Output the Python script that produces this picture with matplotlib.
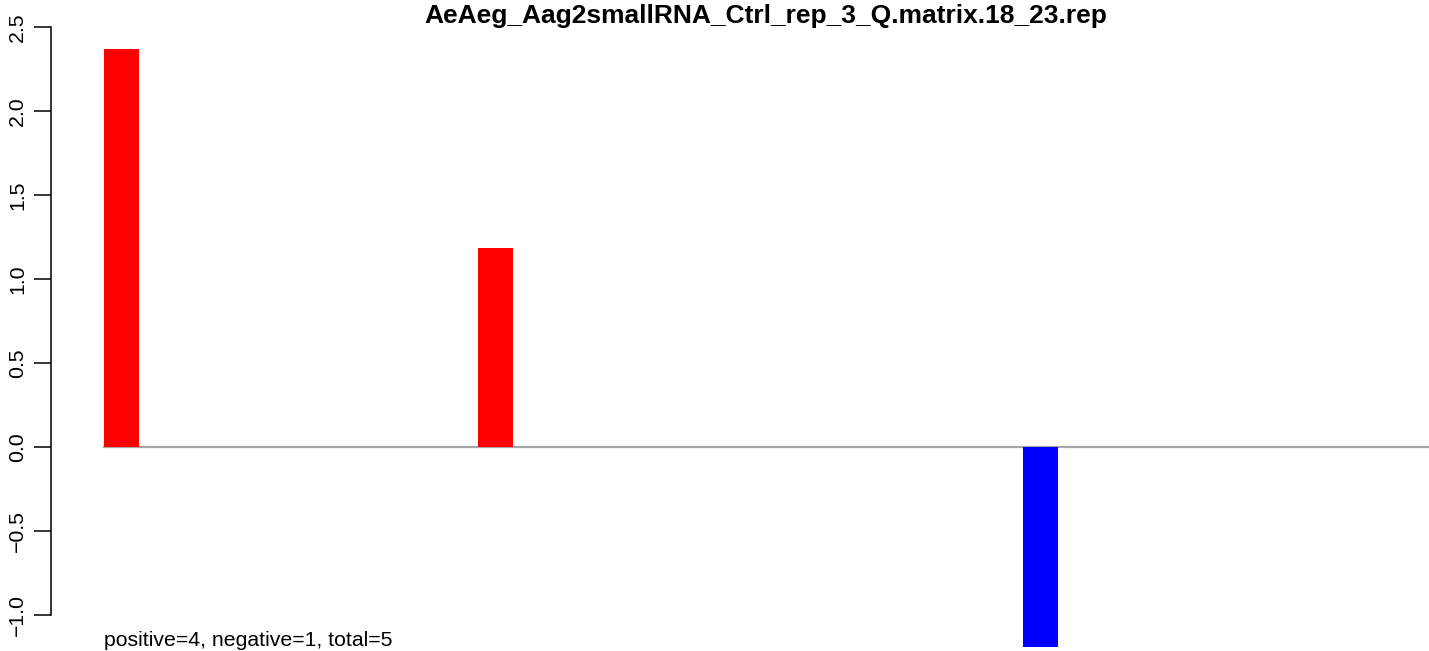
import numpy as np
import matplotlib
matplotlib.use("Agg")
import matplotlib.pyplot as plt

plt.rcParams['font.family'] = ['Liberation Sans', 'DejaVu Sans']

title = "AeAeg_Aag2smallRNA_Ctrl_rep_3_Q.matrix.18_23.rep"
# positions along the x axis and bar values
positions = [121, 495.5, 1040.5]
values = [2.37, 1.185, -1.19]
n_pos, n_neg = 4, 1
yticks = [-1.0, -0.5, 0.0, 0.5, 1.0, 1.5, 2.0, 2.5]

W, H = 1429, 651
fig = plt.figure(figsize=(W / 100, H / 100), dpi=100)
# plot area: y axis at x=50px, y=2.5 at 27px, y=-1.0 at 615px
ax = fig.add_axes([50.5 / W, (H - 615) / H, (W - 50.5) / W, (615 - 26.7) / H])
ax.set_xlim(50.5, W)
ax.set_ylim(-1.0, 2.5)

cols = ['#FF0000' if v > 0 else '#0000FF' for v in values]
bw = 35
ax.plot([min(positions) - bw / 2, W], [0, 0], color='#A6A6A6', lw=1.6,
        zorder=1, clip_on=False)
ax.bar(positions, values, width=bw, color=cols, linewidth=0, zorder=2,
       clip_on=False)

for s in ['top', 'right', 'bottom']:
    ax.spines[s].set_visible(False)
ax.spines['left'].set_bounds(-1.0, 2.5)
ax.spines['left'].set_linewidth(1.1)
ax.set_xticks([])
ax.set_yticks(yticks)
ax.set_yticklabels([('%.1f' % t).replace('-', '\u2212') for t in yticks],
                   rotation=90, va='center', fontsize=15.3)
ax.tick_params(axis='y', length=12, width=1.1, pad=5)

fig.text(766 / W, 1 - 23 / H, title, ha='center', va='baseline',
         fontsize=19, fontweight='bold')
fig.text(104 / W, 1 - 640 / H,
         'positive=%d, negative=%d, total=%d' % (n_pos, n_neg, n_pos + n_neg),
         ha='left', va='center', fontsize=15.3)

fig.savefig('out.png', dpi=100)
